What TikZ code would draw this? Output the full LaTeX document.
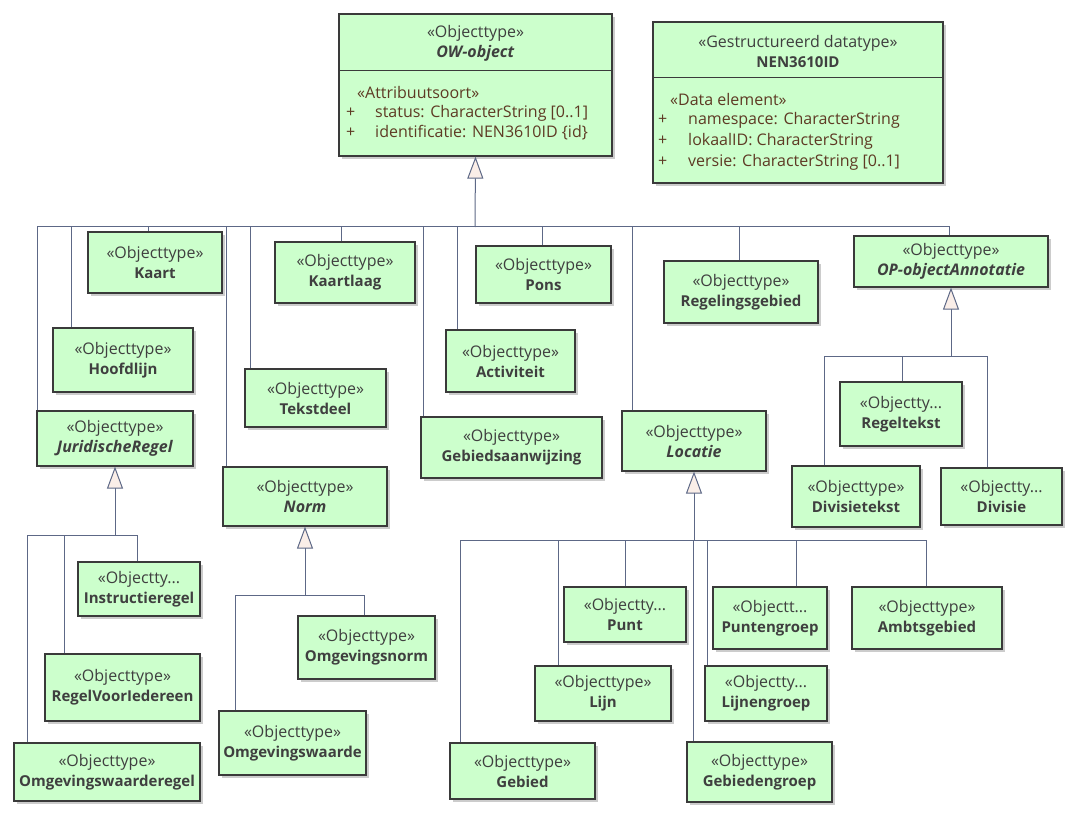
\documentclass[tikz,border=0pt]{standalone}
\usepackage{fontspec}
\setmainfont{Open Sans}
\usetikzlibrary{arrows.meta, shadows}
\definecolor{boxfill}{HTML}{CCFFCC}
\definecolor{boxline}{HTML}{3A3A3A}
\definecolor{linkcol}{HTML}{5D6886}
\definecolor{trifill}{HTML}{FAEEE8}
\definecolor{txtgray}{HTML}{3F3F3F}
\definecolor{attrcol}{HTML}{5E3A24}
\newcommand{\clsname}[1]{{\fontsize{15}{20}\selectfont\textbf{#1}}}
\newcommand{\absname}[1]{\textbf{\textit{#1}}}
\tikzset{
  cls/.style={draw=boxline, fill=boxfill, line width=1.2pt, align=center, inner sep=0pt,
    text=txtgray, font=\fontsize{16}{20}\selectfont,
    drop shadow={shadow xshift=3pt, shadow yshift=-3pt, fill=black!20, opacity=1}},
  hdr/.style={align=center, inner sep=0pt, text=txtgray, font=\fontsize{16}{20}\selectfont},
  attr/.style={anchor=west, inner sep=0pt, text=attrcol, font=\fontsize{16}{20}\selectfont},
  link/.style={draw=linkcol, line width=1pt},
  gen/.style={link, -{Triangle[length=22pt, width=16pt, fill=trifill]}},
}

\begin{document}
\begin{tikzpicture}[x=1pt, y=-1pt]
\useasboundingbox (0,0) rectangle (1078,818);

% OW-object
\node[cls, minimum width=273, minimum height=142] (owobject) at (475.5,85) {};
\node[hdr] (owhead) at (475.5,43.5) {«Objecttype»\\\absname{OW-object}};
\draw[boxline, line width=1pt] (owobject.west |- 0,71) -- (owobject.east |- 0,71);
\node[attr] (owstereo) at (357,93) {«Attribuutsoort»};
\foreach \i/\y/\t in {1/113/{status: CharacterString [0..1]},
    2/133/{identificatie: NEN3610ID \{id\}}} {
  \node[attr] (owplus\i) at (346,\y) {+};
  \node[attr] (owattr\i) at (375,\y) {\t};
}

% NEN3610ID
\node[cls, minimum width=290, minimum height=161] (nen) at (798,102.5) {};
\node[hdr] (nenhead) at (798,51.5) {«Gestructureerd datatype»\\\clsname{NEN3610ID}};
\draw[boxline, line width=1pt] (nen.west |- 0,78) -- (nen.east |- 0,78);
\node[attr] (nenstereo) at (670,100) {«Data element»};
\foreach \i/\y/\t in {1/120/{namespace: CharacterString},
    2/141/{lokaalID: CharacterString},
    3/162/{versie: CharacterString [0..1]}} {
  \node[attr] (nenplus\i) at (658,\y) {+};
  \node[attr] (nenattr\i) at (688,\y) {\t};
}

% objecttypes
\foreach \n/\xa/\ya/\xb/\yb/\t in {
    kaart/88/232/222/293/{«Objecttype»\\\clsname{Kaart}},
    hoofdlijn/53/328/193/392/{«Objecttype»\\\clsname{Hoofdlijn}},
    jurregel/37/411/193/466/{«Objecttype»\\\absname{JuridischeRegel}},
    tekstdeel/245/369/386/427/{«Objecttype»\\\clsname{Tekstdeel}},
    kaartlaag/275/242/415/303/{«Objecttype»\\\clsname{Kaartlaag}},
    norm/223/467/387/526/{«Objecttype»\\\absname{Norm}},
    gebaanw/421/417/602/478/{«Objecttype»\\\clsname{Gebiedsaanwijzing}},
    activiteit/446/330/575/392/{«Objecttype»\\\clsname{Activiteit}},
    pons/476/246/611/303/{«Objecttype»\\\clsname{Pons}},
    locatie/622/411/766/471/{«Objecttype»\\\absname{Locatie}},
    regelgeb/664/261/818/323/{«Objecttype»\\\clsname{Regelingsgebied}},
    opannot/854/236/1048/287/{«Objecttype»\\\absname{OP-objectAnnotatie}},
    regeltekst/840/382/962/446/{«Objectty...\\\clsname{Regeltekst}},
    divisietekst/792/466/920/527/{«Objecttype»\\\clsname{Divisietekst}},
    divisie/941/468/1062/525/{«Objectty...\\\clsname{Divisie}},
    instructie/78/562/200/616/{«Objectty...\\\clsname{Instructieregel}},
    regelvoor/45/654/200/721/{«Objecttype»\\\clsname{RegelVoorIedereen}},
    omgwregel/14/743/200/801/{«Objecttype»\\\clsname{Omgevingswaarderegel}},
    omgnorm/298/616/435/679/{«Objecttype»\\\clsname{Omgevingsnorm}},
    omgwaarde/219/711/366/775/{«Objecttype»\\\clsname{Omgevingswaarde}},
    gebied/450/743/595/799/{«Objecttype»\\\clsname{Gebied}},
    lijn/535/666/671/721/{«Objecttype»\\\clsname{Lijn}},
    punt/564/587/686/642/{«Objectty...\\\clsname{Punt}},
    gebgroep/687/742/832/802/{«Objecttype»\\\clsname{Gebiedengroep}},
    lijnengroep/705/666/827/721/{«Objectty...\\\clsname{Lijnengroep}},
    puntengroep/713/587/827/649/{«Objectt...\\\clsname{Puntengroep}},
    ambtsgebied/852/587/1002/649/{«Objecttype»\\\clsname{Ambtsgebied}}}
  \node[cls, minimum width=\xb-\xa, minimum height=\yb-\ya] (\n) at ({(\xa+\xb)/2},{(\ya+\yb)/2}) {\t};

% generalisaties
\coordinate (owbus) at (475,227);
\foreach \c/\x in {jurregel/37, hoofdlijn/71, kaart/148, norm/226, tekstdeel/250,
    kaartlaag/341, gebaanw/423, activiteit/457, pons/542, locatie/632, regelgeb/739, opannot/949}
  \draw[link] (\c.north -| \x,0) |- (owbus);
\draw[gen] (owbus) -- (owobject.south);

\coordinate (jurbus) at (115,535);
\foreach \c/\x in {omgwregel/27, regelvoor/64, instructie/137}
  \draw[link] (\c.north -| \x,0) |- (jurbus);
\draw[gen] (jurbus) -- (jurregel.south);

\coordinate (normbus) at (305,595);
\foreach \c/\x in {omgwaarde/235, omgnorm/364}
  \draw[link] (\c.north -| \x,0) |- (normbus);
\draw[gen] (normbus) -- (norm.south);

\coordinate (locbus) at (694,540);
\foreach \c/\x in {gebied/460, lijn/558, punt/625, gebgroep/693, lijnengroep/707,
    puntengroep/796, ambtsgebied/926}
  \draw[link] (\c.north -| \x,0) |- (locbus);
\draw[gen] (locbus) -- (locatie.south);

\coordinate (opbus) at (951,356);
\foreach \c/\x in {divisietekst/824, regeltekst/902, divisie/987}
  \draw[link] (\c.north -| \x,0) |- (opbus);
\draw[gen] (opbus) -- (opannot.south);

\end{tikzpicture}
\end{document}
